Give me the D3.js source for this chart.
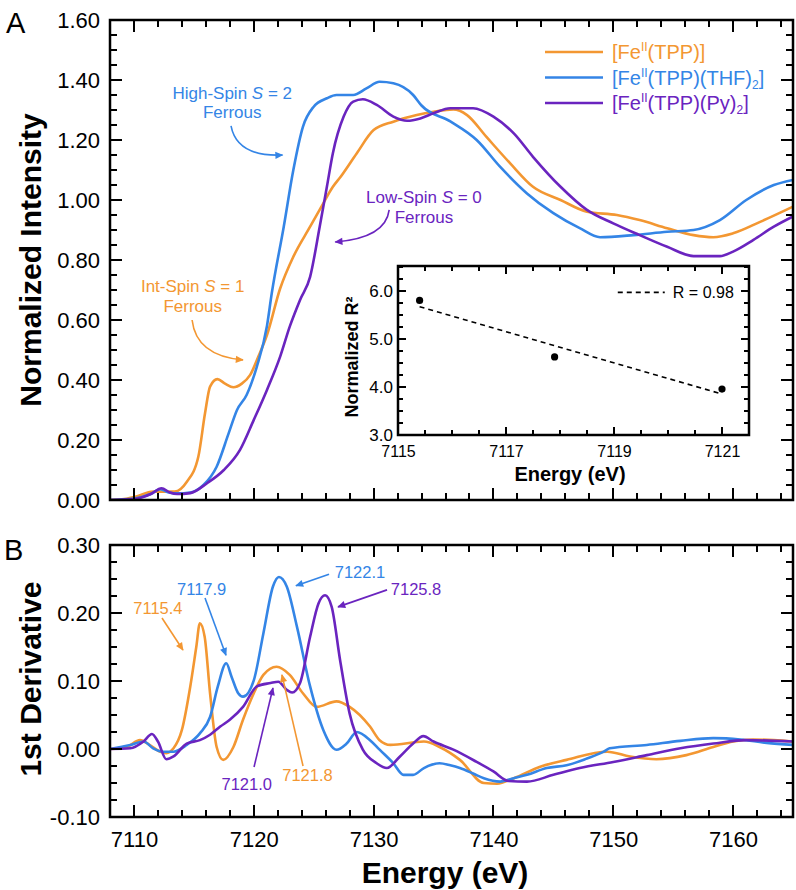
<!DOCTYPE html>
<meta charset="utf-8">
<script src="https://d3js.org/d3.v7.min.js"></script>
<style>
  body { margin: 0; background: #fff; }
</style>
<div id="chart"></div>
<script>

// ---- data ----
// panel A: normalized XAS, [energy (eV), intensity]
var xasTPP = [[7108,0],[7109,0.002],[7110.1,0.011],[7111.6,0.028],[7113.4,0.028],[7114.4,0.06],[7115.37,0.144],[7115.93,0.289],[7116.35,0.378],[7116.96,0.403],[7117.6,0.388],[7118.3,0.376],[7119.0,0.388],[7119.7,0.417],[7120.4,0.48],[7121.1,0.55],[7122.2,0.705],[7123.3,0.811],[7124.7,0.911],[7125.8,0.989],[7126.6,1.044],[7127.2,1.075],[7128.6,1.156],[7130.0,1.233],[7131.65,1.261],[7133.6,1.283],[7135.0,1.294],[7136.66,1.302],[7137.8,1.283],[7139.4,1.211],[7141.4,1.122],[7143.3,1.044],[7145.6,1.0],[7147.8,0.961],[7150.3,0.95],[7152.2,0.933],[7154.5,0.906],[7156.7,0.883],[7158.35,0.876],[7160.0,0.889],[7162.3,0.928],[7165,0.978]];
var xasTHF = [[7108,0],[7110,0.005],[7111.4,0.02],[7112.2,0.036],[7112.9,0.025],[7113.6,0.022],[7114.7,0.025],[7115.8,0.05],[7116.9,0.111],[7117.9,0.222],[7118.6,0.3],[7119.4,0.35],[7120.25,0.444],[7121.1,0.58],[7121.5,0.689],[7122.5,0.911],[7123.3,1.1],[7124.1,1.244],[7125.0,1.311],[7126.1,1.339],[7126.9,1.35],[7128.3,1.35],[7129.4,1.372],[7130.5,1.394],[7131.65,1.389],[7133.3,1.35],[7134.0,1.315],[7136.4,1.262],[7138.6,1.2],[7140.55,1.111],[7142.8,1.022],[7145.0,0.956],[7147.2,0.906],[7148.9,0.876],[7151.7,0.883],[7154.5,0.894],[7156.7,0.9],[7158.9,0.933],[7161.1,1.0],[7163.4,1.05],[7165,1.067]];
var xasPy = [[7108,0],[7110,0.003],[7111.4,0.02],[7112.3,0.039],[7113.0,0.025],[7113.6,0.02],[7114.7,0.023],[7116.1,0.056],[7117.5,0.1],[7118.85,0.167],[7120.0,0.267],[7121.1,0.367],[7122.2,0.478],[7123.0,0.578],[7123.86,0.667],[7124.7,0.744],[7125.5,0.911],[7126.1,1.044],[7126.6,1.156],[7127.5,1.278],[7128.3,1.328],[7129.1,1.336],[7130.26,1.317],[7131.65,1.278],[7132.8,1.264],[7133.9,1.272],[7135.0,1.289],[7136.4,1.306],[7138.3,1.306],[7140.0,1.278],[7141.7,1.222],[7143.3,1.144],[7145.6,1.044],[7147.8,0.967],[7150.0,0.922],[7152.2,0.883],[7154.5,0.844],[7156.7,0.813],[7158.9,0.813],[7160.0,0.828],[7161.7,0.867],[7163.4,0.911],[7165,0.945]];

// panel B: first derivative, [energy (eV), dI/dE]
var derTPP = [[7108,0],[7109.4,0.003],[7110.5,0.013],[7111.3,0.006],[7112.2,-0.004],[7112.7,-0.006],[7113.3,0.001],[7114.0,0.028],[7114.7,0.092],[7115.2,0.15],[7115.5,0.185],[7115.9,0.165],[7116.35,0.082],[7116.9,0.003],[7117.45,-0.016],[7118.3,0.003],[7119.1,0.043],[7120.0,0.082],[7120.8,0.109],[7121.9,0.121],[7123.0,0.109],[7124.1,0.082],[7125.25,0.062],[7126.9,0.07],[7128.0,0.062],[7129.7,0.033],[7130.5,0.013],[7131.4,0.006],[7134.2,0.011],[7135.5,0.003],[7137.2,-0.016],[7139.2,-0.05],[7140.3,-0.051],[7141.7,-0.043],[7143.9,-0.026],[7146.1,-0.016],[7149.5,-0.004],[7151.4,-0.011],[7153.6,-0.015],[7156.1,-0.009],[7158.35,0.003],[7160.0,0.011],[7161.7,0.014],[7163.4,0.013],[7165,0.011]];
var derTHF = [[7108,0],[7109.7,0.006],[7110.8,0.011],[7111.6,0.001],[7112.45,-0.004],[7113.3,-0.004],[7114.4,0.006],[7115.5,0.023],[7116.35,0.047],[7117.0,0.092],[7117.7,0.126],[7118.15,0.106],[7118.7,0.082],[7119.1,0.077],[7120.0,0.101],[7120.8,0.17],[7121.6,0.239],[7122.1,0.253],[7122.75,0.239],[7123.6,0.18],[7124.7,0.092],[7125.8,0.028],[7126.9,-0.001],[7127.75,0.008],[7128.6,0.025],[7129.7,0.013],[7130.5,-0.001],[7131.65,-0.021],[7132.5,-0.038],[7133.3,-0.038],[7134.2,-0.028],[7135.5,-0.021],[7136.4,-0.024],[7137.2,-0.028],[7138.3,-0.036],[7139.2,-0.043],[7140.55,-0.048],[7141.7,-0.043],[7142.8,-0.038],[7144.45,-0.028],[7146.1,-0.024],[7147.8,-0.014],[7149.2,-0.004],[7149.7,0.001],[7152.8,0.006],[7155.6,0.012],[7158.35,0.016],[7160.6,0.014],[7162.8,0.009],[7165,0.006]];
var derPy = [[7108,0],[7109.7,0.001],[7110.8,0.011],[7111.5,0.022],[7112.0,0.011],[7112.7,-0.015],[7113.3,-0.011],[7114.4,0.008],[7115.5,0.013],[7116.35,0.021],[7117.2,0.033],[7118.0,0.043],[7119.1,0.062],[7120.25,0.092],[7121.4,0.097],[7122.05,0.099],[7122.75,0.087],[7123.2,0.083],[7123.86,0.097],[7124.7,0.165],[7125.4,0.214],[7125.95,0.226],[7126.5,0.209],[7127.2,0.131],[7128.0,0.052],[7129.1,-0.001],[7130.26,-0.021],[7131.1,-0.028],[7132.2,-0.011],[7133.3,0.008],[7134.15,0.019],[7135.0,0.011],[7136.66,-0.001],[7138.6,-0.019],[7140.0,-0.033],[7141.25,-0.047],[7142.8,-0.048],[7145.0,-0.038],[7147.2,-0.028],[7150.0,-0.019],[7152.8,-0.009],[7155.6,0.001],[7158.35,0.008],[7161.1,0.013],[7165,0.011]];

// inset: pre-edge energy vs normalized R^2
var insetEnergy = [7115.4, 7117.9, 7121.0];
var insetR2 = [5.81, 4.63, 3.96];

// tick labels
var energyTicks = [7110, 7120, 7130, 7140, 7150, 7160];
var intensityTicks = [0, 0.2, 0.4, 0.6, 0.8, 1.0, 1.2, 1.4, 1.6];
var derivTicks = [-0.1, 0, 0.1, 0.2, 0.3];
var insetEnergyTicks = [7115, 7117, 7119, 7121];
var insetR2Ticks = [3, 4, 5, 6];

// annotations, in data units
var spinNotes = [
  {c: "TPP", lines: ["Int-Spin ", "1"], e: 7114.9, v: [0.693, 0.627], arrow: [[7114.85, 0.6], [7115.2, 0.48], [7119.1, 0.467]]},
  {c: "THF", lines: ["High-Spin ", "2"], e: 7118.2, v: [1.337, 1.273], arrow: [[7118.1, 1.247], [7118.6, 1.143], [7122.4, 1.15]]},
  {c: "Py", lines: ["Low-Spin ", "0"], e: 7134.2, v: [0.99, 0.923], arrow: [[7131.3, 0.967], [7131.0, 0.873], [7126.8, 0.86]]}
];
var peakNotes = [
  {c: "TPP", label: "7115.4", e: 7112.0, v: 0.1985, from: [7112.34, 0.1926], to: [7114.09, 0.1456]},
  {c: "THF", label: "7117.9", e: 7115.65, v: 0.2265, from: [7115.93, 0.222], to: [7117.68, 0.138]},
  {c: "THF", label: "7122.1", e: 7128.86, v: 0.2515, from: [7126.28, 0.257], to: [7123.52, 0.24]},
  {c: "Py", label: "7125.8", e: 7133.54, v: 0.2265, from: [7131.12, 0.234], to: [7127.03, 0.209]},
  {c: "Py", label: "7121.0", e: 7119.41, v: -0.06, from: [7120.02, -0.0265], to: [7121.6, 0.0897]},
  {c: "TPP", label: "7121.8", e: 7124.48, v: -0.047, from: [7124.11, -0.025], to: [7122.35, 0.109]}
];

// ---- setup ----
var FONT = "'Liberation Sans', Arial, Helvetica, sans-serif";
var color = {TPP: "#f39732", THF: "#3485e6", Py: "#6a24bf"};

var svg = d3.select("#chart").append("svg")
    .attr("width", 796).attr("height", 890)
    .style("font-family", FONT);

var x = d3.scaleLinear().domain([7108, 7165]).range([110, 793]);
var yA = d3.scaleLinear().domain([0, 1.6]).range([500, 20]);
var yB = d3.scaleLinear().domain([-0.1, 0.3]).range([817, 545]);
var xi = d3.scaleLinear().domain([7115, 7121.5]).range([398, 749]);
var yi = d3.scaleLinear().domain([3, 6.53]).range([435, 266]);

var defs = svg.append("defs");
Object.keys(color).forEach(function(k) {
  defs.append("marker")
      .attr("id", "ah-" + k)
      .attr("viewBox", "0 0 10 10")
      .attr("refX", 9).attr("refY", 5)
      .attr("markerWidth", 10).attr("markerHeight", 8)
      .attr("markerUnits", "userSpaceOnUse")
      .attr("orient", "auto")
    .append("path")
      .attr("d", "M0,0.5 L10,5 L0,9.5 z")
      .attr("fill", color[k]);
});

// tick labels from d3 axes (tick marks drawn separately, at the end)
function labels(axis, tr, vals, fmt, pad, fs) {
  var g = svg.append("g").attr("transform", tr)
      .call(axis.tickValues(vals).tickSize(0).tickPadding(pad).tickFormat(fmt));
  g.select(".domain").remove();
  g.selectAll(".tick line").remove();
  g.attr("font-family", FONT).attr("font-size", fs);
  g.selectAll("text").attr("fill", "#000");
}

// inward tick marks on all four sides of a box, one path per box
function marks(xs, ys, xVals, yVals, len) {
  var x0 = xs.range()[0], x1 = xs.range()[1], yb = ys.range()[0], yt = ys.range()[1];
  var p = d3.path();
  xVals.forEach(function(d) {
    var px = xs(d);
    p.moveTo(px, yb); p.lineTo(px, yb - len);
    p.moveTo(px, yt); p.lineTo(px, yt + len);
  });
  yVals.forEach(function(d) {
    var py = ys(d);
    p.moveTo(x0, py); p.lineTo(x0 + len, py);
    p.moveTo(x1, py); p.lineTo(x1 - len, py);
  });
  svg.append("path")
      .attr("d", p.toString())
      .attr("fill", "none")
      .attr("stroke", "#000")
      .attr("stroke-width", 2)
      .attr("shape-rendering", "crispEdges");
}

function box(xs, ys) {
  svg.append("rect")
      .attr("x", xs.range()[0]).attr("y", ys.range()[1])
      .attr("width", xs.range()[1] - xs.range()[0]).attr("height", ys.range()[0] - ys.range()[1])
      .attr("fill", "none").attr("stroke", "#000").attr("stroke-width", 2.5);
}

function clip(id, xs, ys) {
  defs.append("clipPath").attr("id", id).append("rect")
      .attr("x", xs.range()[0]).attr("y", ys.range()[1])
      .attr("width", xs.range()[1] - xs.range()[0])
      .attr("height", ys.range()[0] - ys.range()[1]);
}
clip("clipA", x, yA);
clip("clipB", x, yB);

var fmt2 = function(d) { return d.toFixed(2); };
var minorE = d3.range(7108, 7165.5, 2);

// ---- panel A ----
var lineA = d3.line().x(function(d) { return x(d[0]); }).y(function(d) { return yA(d[1]); }).curve(d3.curveMonotoneX);
var gA = svg.append("g").attr("clip-path", "url(#clipA)");
[["TPP", xasTPP], ["THF", xasTHF], ["Py", xasPy]].forEach(function(s) {
  gA.append("path").datum(s[1])
      .attr("d", lineA)
      .attr("fill", "none")
      .attr("stroke", color[s[0]])
      .attr("stroke-width", 2.6)
      .attr("stroke-linejoin", "round");
});
labels(d3.axisLeft(yA), "translate(110,0)", intensityTicks, fmt2, 10, 22);

// spin-state annotations
spinNotes.forEach(function(n) {
  var t1 = svg.append("text").attr("x", x(n.e)).attr("y", yA(n.v[0]))
      .attr("text-anchor", "middle").attr("font-size", 17).attr("fill", color[n.c]);
  t1.append("tspan").text(n.lines[0]);
  t1.append("tspan").attr("font-style", "italic").text("S");
  t1.append("tspan").text(" = " + n.lines[1]);
  svg.append("text").attr("x", x(n.e)).attr("y", yA(n.v[1]))
      .attr("text-anchor", "middle").attr("font-size", 17).attr("fill", color[n.c])
      .text("Ferrous");
  var a = n.arrow;
  svg.append("path")
      .attr("d", "M" + x(a[0][0]) + "," + yA(a[0][1]) + " Q" + x(a[1][0]) + "," + yA(a[1][1]) + " " + x(a[2][0]) + "," + yA(a[2][1]))
      .attr("fill", "none").attr("stroke", color[n.c]).attr("stroke-width", 1.6)
      .attr("marker-end", "url(#ah-" + n.c + ")");
});

// legend
var legendRows = [
  {c: "TPP", parts: [["[Fe", 0], ["II", -8], ["(TPP)]", 8]]},
  {c: "THF", parts: [["[Fe", 0], ["II", -8], ["(TPP)(THF)", 8], ["2", 4], ["]", -4]]},
  {c: "Py", parts: [["[Fe", 0], ["II", -8], ["(TPP)(Py)", 8], ["2", 4], ["]", -4]]}
];
legendRows.forEach(function(r, i) {
  var ly = 52 + i * 25.5;
  svg.append("line").attr("x1", 545).attr("x2", 603).attr("y1", ly).attr("y2", ly)
      .attr("stroke", color[r.c]).attr("stroke-width", 2.6);
  var t = svg.append("text").attr("x", 612).attr("y", ly + 7)
      .attr("font-size", 20).attr("fill", color[r.c]);
  r.parts.forEach(function(p) {
    var sm = p[0] === "II" || p[0] === "2";
    t.append("tspan").attr("dy", p[1]).attr("font-size", sm ? 12 : 20).text(p[0]);
  });
});

// ---- inset ----
svg.append("rect").attr("x", 398).attr("y", 266).attr("width", 351).attr("height", 169).attr("fill", "#fff");
var pts = insetEnergy.map(function(e, i) { return [e, insetR2[i]]; });
// least-squares fit through the three points
var mx = d3.mean(insetEnergy), my = d3.mean(insetR2);
var slope = d3.sum(pts, function(p) { return (p[0] - mx) * (p[1] - my); }) /
            d3.sum(pts, function(p) { return (p[0] - mx) * (p[0] - mx); });
var fit = [insetEnergy[0], insetEnergy[2]].map(function(e) { return [e, my + slope * (e - mx)]; });
svg.append("line")
    .attr("x1", xi(fit[0][0])).attr("y1", yi(fit[0][1]))
    .attr("x2", xi(fit[1][0])).attr("y2", yi(fit[1][1]))
    .attr("stroke", "#000").attr("stroke-width", 1.6).attr("stroke-dasharray", "5,4");
svg.selectAll(".pt").data(pts).enter().append("circle")
    .attr("cx", function(d) { return xi(d[0]); })
    .attr("cy", function(d) { return yi(d[1]); })
    .attr("r", 3.6).attr("fill", "#000");

labels(d3.axisBottom(xi), "translate(0,435)", insetEnergyTicks, d3.format("d"), 11, 16);
labels(d3.axisLeft(yi), "translate(398,0)", insetR2Ticks, d3.format(".1f"), 5, 17);

// inset legend
svg.append("line").attr("x1", xi(7119.07)).attr("x2", xi(7119.94)).attr("y1", yi(5.98)).attr("y2", yi(5.98))
    .attr("stroke", "#000").attr("stroke-width", 1.6).attr("stroke-dasharray", "5,4");
svg.append("text").attr("x", xi(7120.09)).attr("y", yi(5.98) + 6)
    .attr("font-size", 16).text("R = 0.98");

svg.append("text").attr("x", 570).attr("y", 481).attr("text-anchor", "middle")
    .attr("font-size", 20).attr("font-weight", "bold").text("Energy (eV)");
svg.append("text").attr("transform", "translate(358,357) rotate(-90)").attr("text-anchor", "middle")
    .attr("font-size", 18).attr("font-weight", "bold").text("Normalized R²");

// ---- panel B ----
var lineB = d3.line().x(function(d) { return x(d[0]); }).y(function(d) { return yB(d[1]); }).curve(d3.curveMonotoneX);
var gB = svg.append("g").attr("clip-path", "url(#clipB)");
[["TPP", derTPP], ["THF", derTHF], ["Py", derPy]].forEach(function(s) {
  gB.append("path").datum(s[1])
      .attr("d", lineB)
      .attr("fill", "none")
      .attr("stroke", color[s[0]])
      .attr("stroke-width", 2.6)
      .attr("stroke-linejoin", "round");
});

labels(d3.axisBottom(x), "translate(0,817)", energyTicks, d3.format("d"), 14, 22);
labels(d3.axisLeft(yB), "translate(110,0)", derivTicks, fmt2, 10, 22);

peakNotes.forEach(function(n) {
  svg.append("line")
      .attr("x1", x(n.from[0])).attr("y1", yB(n.from[1]))
      .attr("x2", x(n.to[0])).attr("y2", yB(n.to[1]))
      .attr("stroke", color[n.c]).attr("stroke-width", 1.6)
      .attr("marker-end", "url(#ah-" + n.c + ")");
  svg.append("text").attr("x", x(n.e)).attr("y", yB(n.v))
      .attr("text-anchor", "middle").attr("font-size", 16.5).attr("fill", color[n.c])
      .text(n.label);
});

// ---- titles ----
svg.append("text").attr("transform", "translate(41,260) rotate(-90)").attr("text-anchor", "middle")
    .attr("font-size", 30).attr("font-weight", "bold").text("Normalized Intensity");
svg.append("text").attr("transform", "translate(41,679) rotate(-90)").attr("text-anchor", "middle")
    .attr("font-size", 30).attr("font-weight", "bold").text("1st Derivative");
svg.append("text").attr("x", 445).attr("y", 883).attr("text-anchor", "middle")
    .attr("font-size", 30).attr("font-weight", "bold").text("Energy (eV)");
svg.append("text").attr("x", 6).attr("y", 33).attr("font-size", 29).text("A");
svg.append("text").attr("x", 4).attr("y", 560).attr("font-size", 29).text("B");

// ---- frames and tick marks, drawn last so nothing sits on top ----
marks(x, yA, minorE, d3.range(0, 1.601, 0.05), 7);
marks(x, yA, energyTicks, intensityTicks, 12);
box(x, yA);
marks(xi, yi, d3.range(7115, 7121.51, 0.5), d3.range(3, 6.51, 0.25), 5);
marks(xi, yi, insetEnergyTicks, insetR2Ticks, 8);
box(xi, yi);
marks(x, yB, minorE, d3.range(-0.1, 0.301, 0.025), 7);
marks(x, yB, energyTicks, derivTicks, 12);
box(x, yB);

</script>
